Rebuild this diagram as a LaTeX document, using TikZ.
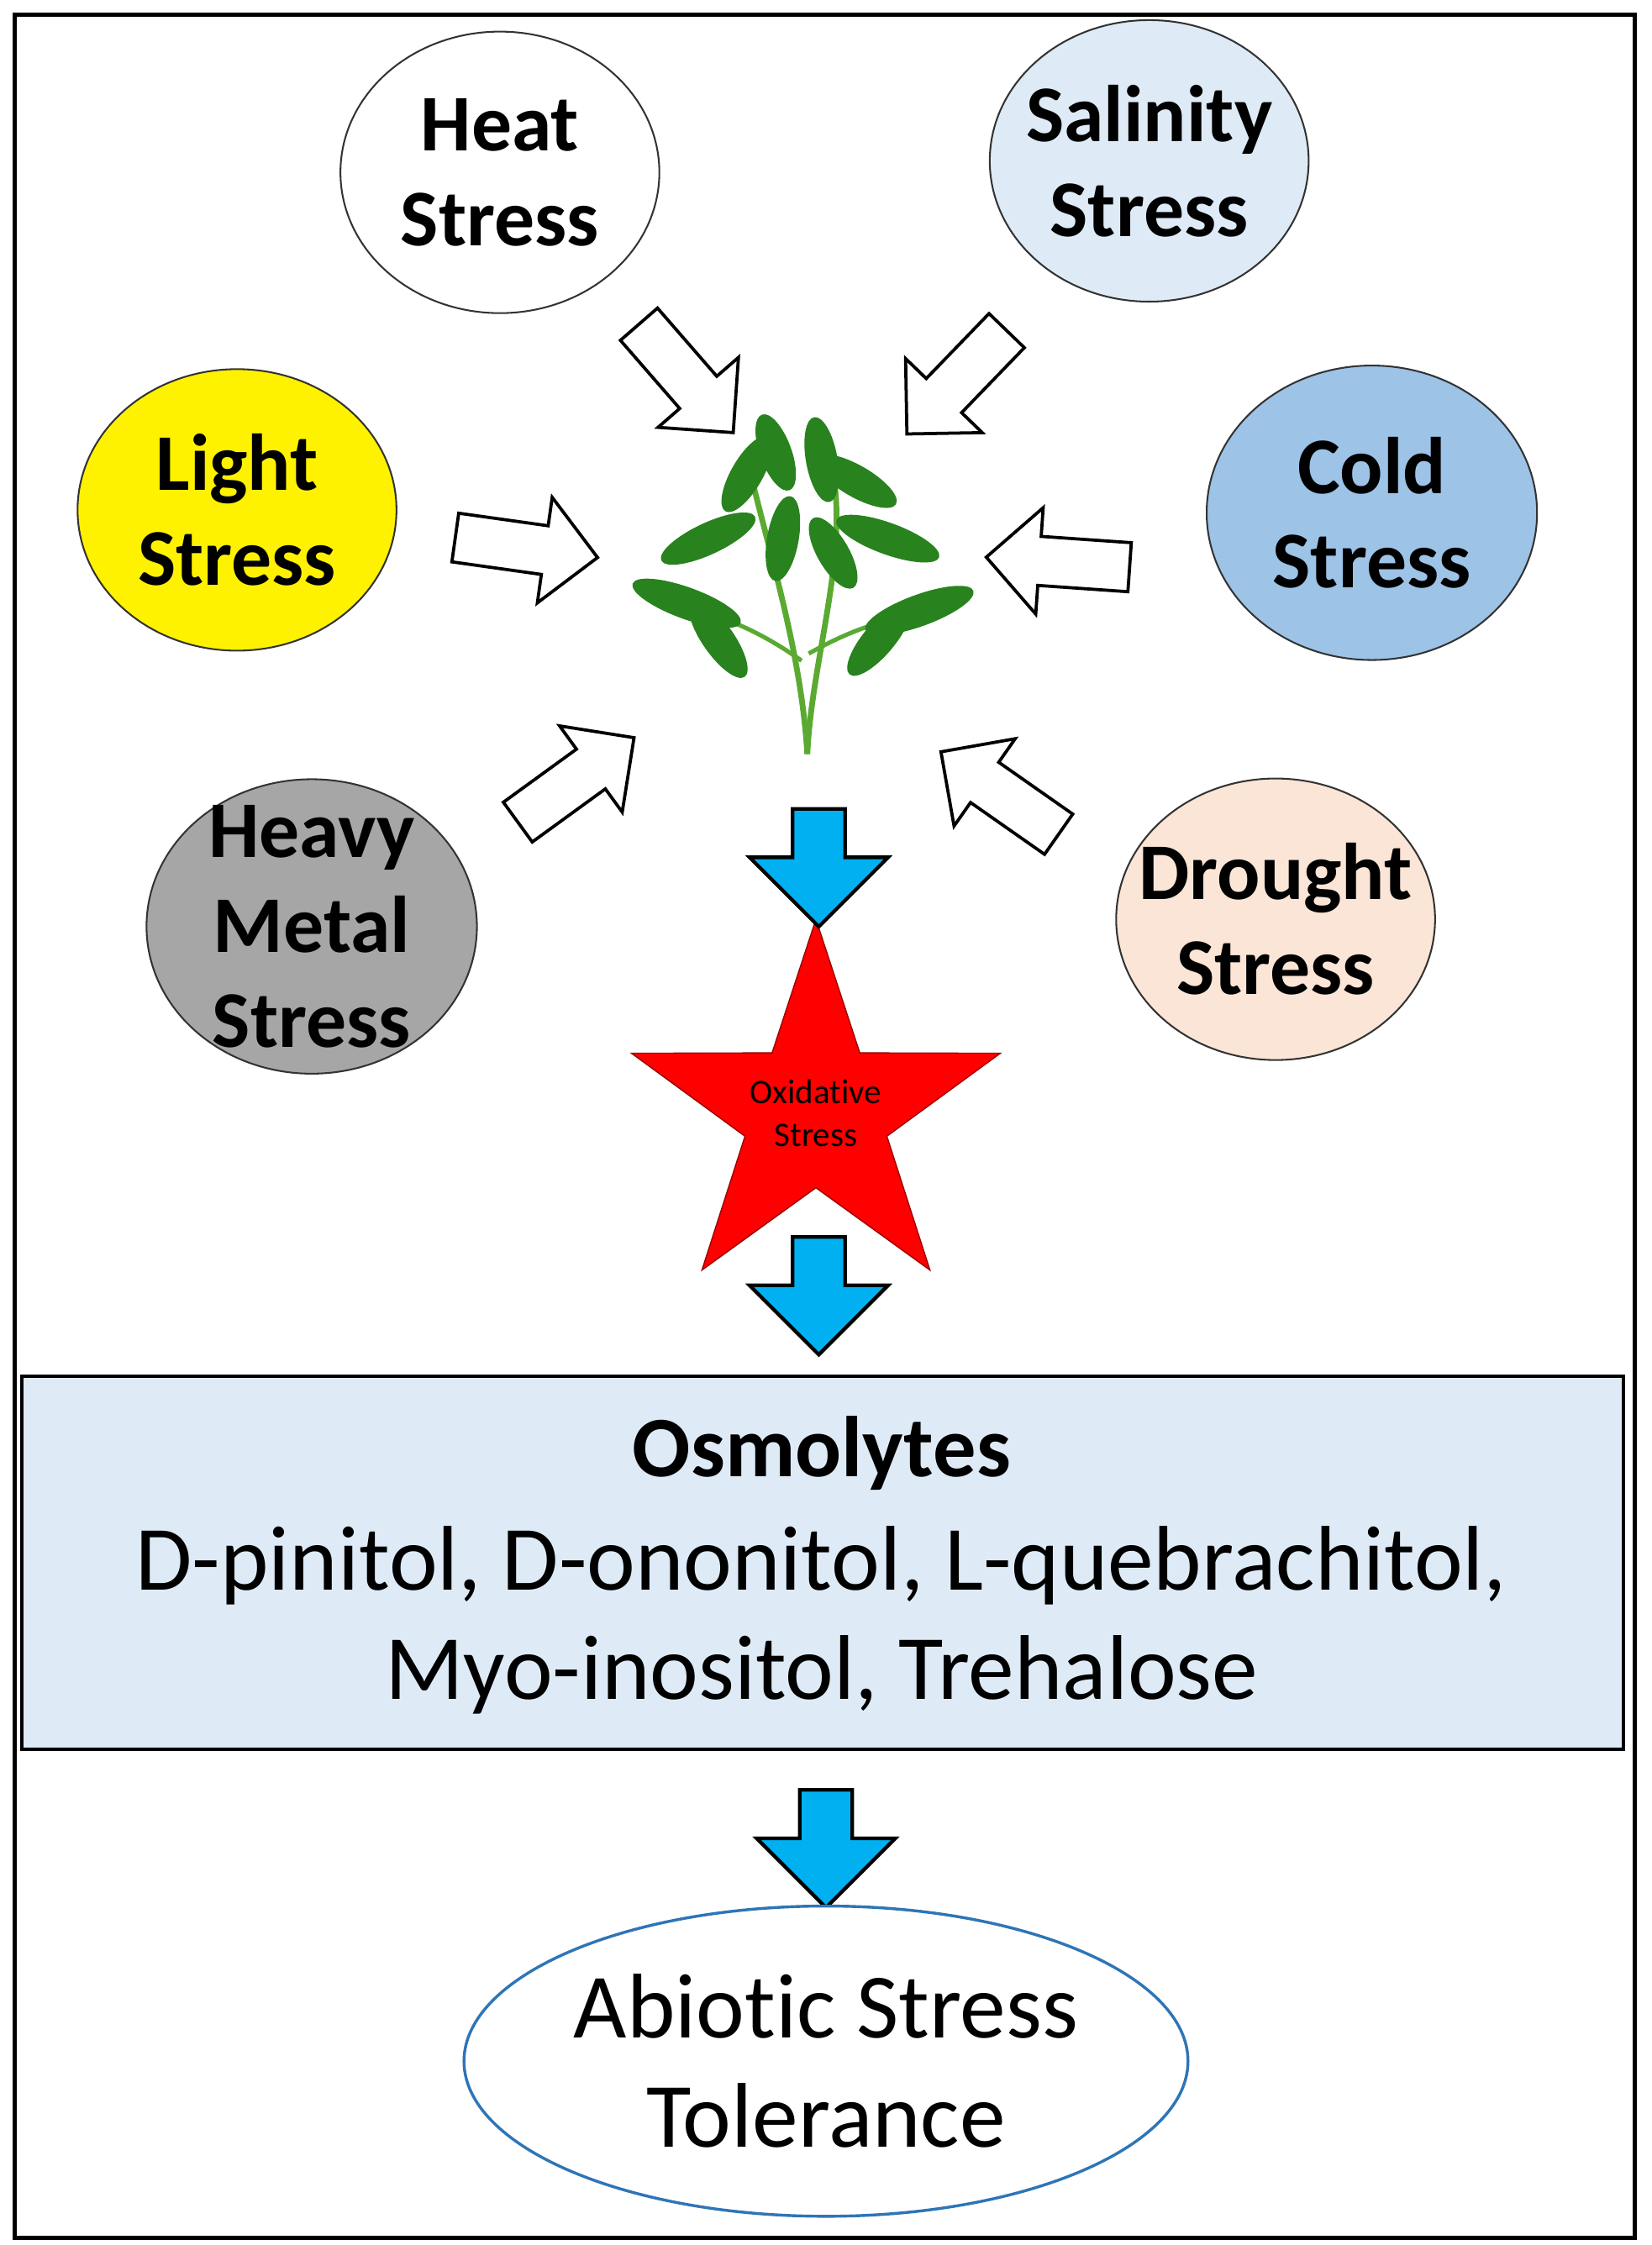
\documentclass[tikz,border=0pt]{standalone}
\usepackage{fontspec}
\setmainfont{Carlito}[Ligatures={NoCommon}]
\usetikzlibrary{shapes.geometric,shapes.arrows}
\definecolor{lblue}{RGB}{222,235,247}
\definecolor{cblue}{RGB}{157,195,230}
\definecolor{peach}{RGB}{251,229,214}
\definecolor{arrblue}{RGB}{0,176,240}
\definecolor{ellblue}{RGB}{46,117,182}
\definecolor{leaf}{RGB}{40,130,30}
\definecolor{leafl}{RGB}{90,170,50}
\begin{document}
\begin{tikzpicture}[x=1pt,y=-1pt,
  stress/.style={ellipse,draw=black!80,line width=1.2pt,minimum width=222pt,minimum height=196pt,inner sep=0pt},
  stext/.style={align=center,font=\fontsize{56}{66}\selectfont\bfseries,inner sep=0pt},
  warr/.style={single arrow,draw=black,line width=2.2pt,fill=white,minimum height=100pt,minimum width=74pt,single arrow head extend=20pt,single arrow head indent=0pt,inner xsep=0pt,inner ysep=16pt,anchor=center},
  barr/.style={single arrow,draw=black,line width=2.5pt,fill=arrblue,minimum height=82pt,minimum width=96pt,single arrow head extend=30pt,inner xsep=17pt,inner ysep=0pt,shape border rotate=270,anchor=center}]
\useasboundingbox (0,0) rectangle (1150,1563);
\draw[line width=3pt] (10,10) rectangle (1138,1558);
% stress ellipses
\node[stress] (heat) at (348,120) {};
\node[stext] (heatt) at (heat) {Heat\\Stress};
\node[stress,fill=lblue] (sal) at (800,112) {};
\node[stext] (salt) at (sal) {Salinity\\Stress};
\node[stress,fill=yellow] (light) at (165,355) {};
\node[stext] (lightt) at (light) {Light\\Stress};
\node[stress,fill=cblue,minimum width=230pt,minimum height=205pt] (cold) at (955,357) {};
\node[stext] (coldt) at (cold) {Cold\\Stress};
\node[stress,fill=black!35,minimum width=230pt,minimum height=205pt] (heavy) at (217,645) {};
\node[stext] (heavyt) at (heavy) {Heavy\\Metal\\Stress};
\node[stress,fill=peach] (drought) at (888,640) {};
\node[stext] (droughtt) at (drought) {Drought\\Stress};
% plant
\coordinate (plant) at (562,420);
\draw[leafl,line width=4pt] (562,525) .. controls (558,460) and (540,400) .. (525,340);
\draw[leafl,line width=4pt] (562,525) .. controls (565,460) and (590,390) .. (580,330);
\draw[leafl,line width=3pt] (558,460) .. controls (530,440) and (505,430) .. (485,425);
\draw[leafl,line width=3pt] (563,455) .. controls (590,440) and (615,430) .. (640,430);
\foreach \x/\y/\a/\l in {478/420/200/40, 500/445/235/32, 493/375/155/36, 520/330/120/30, 540/315/70/28, 572/320/80/30, 596/335/30/32, 618/375/20/38, 640/425/-20/40, 612/445/-50/32, 545/375/100/30, 580/385/60/28}
  \fill[leaf] (\x,\y) ellipse[x radius=\l pt,y radius=11pt,rotate=-\a];
% white arrows
\node[warr,rotate=-49] (a1) at (472,257) {};
\node[warr,rotate=-134] (a2) at (672,260) {};
\node[warr,rotate=-8] (a3) at (358,380) {};
\node[warr,rotate=176] (a4) at (745,392) {};
\node[warr,rotate=36] (a5) at (394,548) {};
\node[warr,rotate=145] (a6) at (703,557) {};
% star
\node[star,star points=5,star point ratio=2.6,fill=red,draw=red!60!black,line width=0.8pt,minimum size=270pt,inner sep=0pt] (ox) at (568,775) {};
\node[font=\fontsize{24}{30}\selectfont,align=center] (oxt) at (568,775) {Oxidative\\Stress};
% blue arrows
\node[barr] (b1) at (570,595) {};
\node[barr] (b2) at (570,893) {};
\node[barr] (b3) at (575,1278) {};
% osmolytes box
\node[draw=black,line width=2.5pt,fill=lblue,minimum width=1115pt,minimum height=260pt,inner sep=0pt] (osm) at (572.5,1088) {};
\node[font=\fontsize{60}{66}\selectfont\bfseries] (osmt) at (572,1012) {Osmolytes};
\node[font=\fontsize{64}{76}\selectfont,align=center] (osml) at (572,1128) {D-pinitol, D-ononitol, L-quebrachitol,\\Myo-inositol, Trehalose};
% tolerance
\node[ellipse,draw=ellblue,line width=2pt,fill=white,minimum width=504pt,minimum height=216pt,inner sep=0pt] (tol) at (575,1435) {};
\node[align=center,font=\fontsize{64}{76}\selectfont] (tolt) at (tol) {Abiotic Stress\\Tolerance};
\end{tikzpicture}
\end{document}
